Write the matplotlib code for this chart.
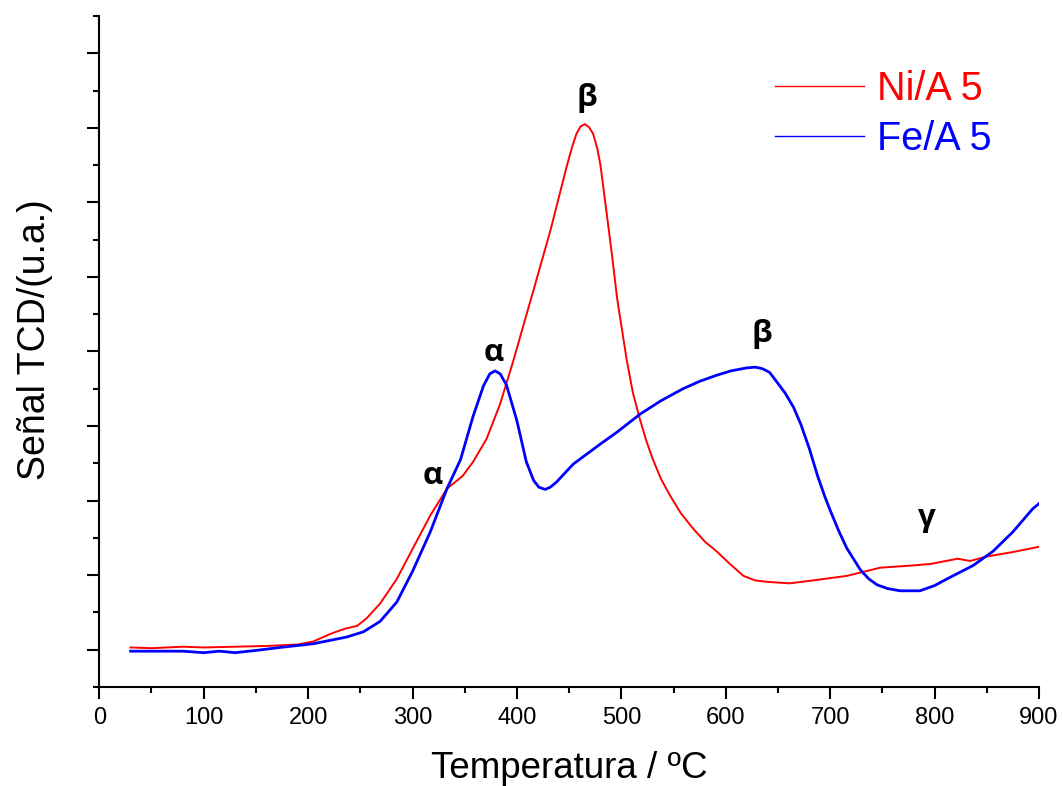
import matplotlib
matplotlib.use('Agg')
import matplotlib.pyplot as plt
from matplotlib.ticker import MultipleLocator

# datos (TPR)
temp_ni = [30, 50, 80, 100, 130, 160, 190, 205, 221, 235, 247, 256, 269, 285, 300, 317, 333, 348, 358,
           371, 384, 396, 415, 432, 448, 453, 457, 461, 465, 469, 473, 477, 480, 486, 491, 496, 505, 511,
           518, 524, 530, 538, 547, 557, 569, 580, 592, 604, 617, 628, 640, 661, 684, 716, 748, 779, 796,
           822, 834, 850, 875, 900]
senal_ni = [0.03, 0.02, 0.04, 0.03, 0.04, 0.05, 0.07, 0.11, 0.21, 0.28, 0.32, 0.42, 0.62, 0.95, 1.35, 1.80,
            2.16, 2.33, 2.52, 2.83, 3.30, 3.85, 4.78, 5.62, 6.50, 6.75, 6.92, 7.02, 7.05, 7.01, 6.92, 6.72,
            6.50, 5.85, 5.30, 4.71, 3.90, 3.45, 3.08, 2.80, 2.56, 2.29, 2.06, 1.83, 1.62, 1.45, 1.31, 1.15,
            0.99, 0.93, 0.91, 0.89, 0.93, 0.99, 1.10, 1.13, 1.15, 1.22, 1.19, 1.25, 1.31, 1.38]

temp_fe = [30, 60, 80, 100, 115, 130, 150, 173, 205, 237, 253, 269, 285, 300, 317, 333, 346, 358, 368,
           374, 379, 384, 390, 400, 409, 416, 421, 427, 432, 438, 454, 480, 496, 518, 538, 559, 575, 591,
           605, 620, 628, 635, 642, 649, 657, 665, 672, 680, 688, 695, 700, 708, 716, 729, 737, 745, 755,
           767, 786, 800, 812, 837, 856, 875, 894, 900]
senal_fe = [-0.02, -0.02, -0.02, -0.04, -0.02, -0.04, -0.01, 0.03, 0.08, 0.17, 0.24, 0.38, 0.64, 1.05, 1.58,
            2.16, 2.55, 3.13, 3.54, 3.70, 3.74, 3.70, 3.55, 3.07, 2.52, 2.27, 2.18, 2.15, 2.18, 2.25, 2.49,
            2.76, 2.92, 3.16, 3.34, 3.50, 3.60, 3.68, 3.74, 3.78, 3.79, 3.77, 3.72, 3.59, 3.44, 3.25, 3.02,
            2.70, 2.33, 2.05, 1.87, 1.60, 1.36, 1.07, 0.95, 0.87, 0.82, 0.79, 0.79, 0.86, 0.95, 1.13, 1.32,
            1.58, 1.89, 1.96]

# etiquetas de los picos
picos = ['β', 'α', 'α', 'β', 'γ']
picos_t = [467, 378, 319, 635, 793]
picos_y = [7.40, 3.98, 2.33, 4.23, 1.76]

plt.rcParams['font.family'] = ['Liberation Sans', 'DejaVu Sans']

fig = plt.figure(figsize=(10.63, 7.86), dpi=100)
ax = fig.add_axes([0.0934, 0.126, 0.884, 0.8536])

ax.plot(temp_ni, senal_ni, color='#ff0000', lw=1.4, label='Ni/A 5')
ax.plot(temp_fe, senal_fe, color='#0000ff', lw=2.0, label='Fe/A 5')

for txt, t, s in zip(picos, picos_t, picos_y):
    ax.text(t, s, txt, ha='center', va='center', fontsize=22.5, fontweight='bold',
            family=['Open Sans', 'DejaVu Sans'])

ax.set_xlim(0, 900)
ax.set_ylim(-0.5, 8.5)
ax.xaxis.set_major_locator(MultipleLocator(100))
ax.xaxis.set_minor_locator(MultipleLocator(50))
ax.yaxis.set_major_locator(MultipleLocator(1))
ax.yaxis.set_minor_locator(MultipleLocator(0.5))
ax.set_yticklabels([])

for s in ['top', 'right']:
    ax.spines[s].set_visible(False)
for s in ['left', 'bottom']:
    ax.spines[s].set_linewidth(1.5)

ax.tick_params(which='major', direction='out', length=8.5, width=1.5, labelsize=17, pad=6)
ax.tick_params(which='minor', direction='out', length=4.5, width=1.5)

ax.set_xlabel('Temperatura / ºC', fontsize=26.5)
ax.xaxis.set_label_coords(0.5, -0.095)
ax.set_ylabel('Señal TCD/(u.a.)', fontsize=27)
ax.yaxis.set_label_coords(-0.049, 0.517)

leg = ax.legend(loc='upper left', bbox_to_anchor=(0.719, 0.9195), frameon=False, fontsize=28.5,
                handlelength=2.25, handletextpad=0.33, labelspacing=0.31, borderpad=0, borderaxespad=0)
for line, text in zip(leg.get_lines(), leg.get_texts()):
    line.set_linewidth(1.0)
    text.set_color(line.get_color())

fig.savefig('out.png', dpi=100)
